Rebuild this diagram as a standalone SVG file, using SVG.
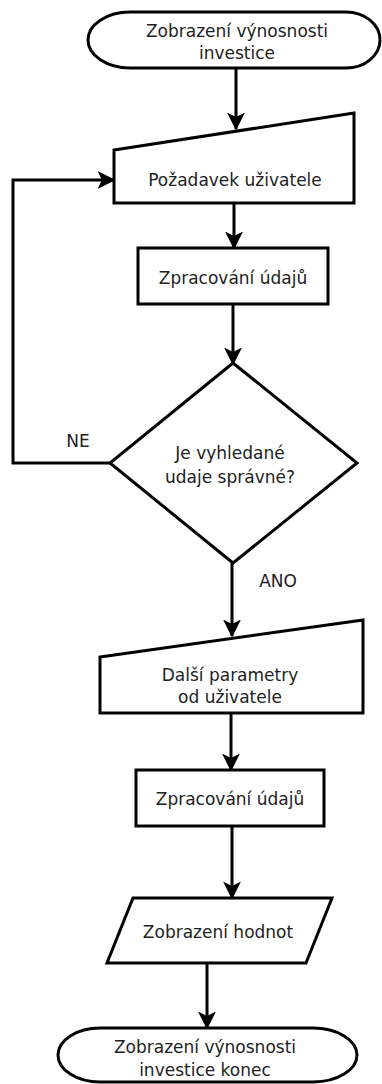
<svg xmlns="http://www.w3.org/2000/svg" width="382" height="1084" viewBox="0 0 382 1084">
<defs>
<marker id="ah" viewBox="0 0 12 12" refX="11" refY="6" markerWidth="6" markerHeight="6" orient="auto" markerUnits="strokeWidth">
<path d="M0,0 L12,6 L0,12 L3,6 z" fill="#000"/>
</marker>
<style>
.s{fill:#fff;stroke:#000;stroke-width:3;stroke-linejoin:miter}
.c{fill:none;stroke:#000;stroke-width:3}
.t{font-family:"DejaVu Sans",sans-serif;font-size:17px;fill:#222;text-anchor:middle}
</style>
</defs>
<rect width="382" height="1084" fill="#fff"/>
<g id="connectors">
<line class="c" x1="236" y1="68" x2="236" y2="129" marker-end="url(#ah)"/>
<line class="c" x1="234" y1="203" x2="234" y2="248" marker-end="url(#ah)"/>
<line class="c" x1="233" y1="304" x2="233" y2="364" marker-end="url(#ah)"/>
<polyline class="c" points="110,463 13,463 13,180 114,180" marker-end="url(#ah)"/>
<line class="c" x1="232" y1="563" x2="232" y2="636" marker-end="url(#ah)"/>
<line class="c" x1="231" y1="713" x2="231" y2="770" marker-end="url(#ah)"/>
<line class="c" x1="232" y1="826" x2="232" y2="898" marker-end="url(#ah)"/>
<line class="c" x1="207" y1="963" x2="207" y2="1028" marker-end="url(#ah)"/>
</g>
<g id="start">
<path class="s" d="M130,12 H346 A34,28 0 0 1 346,68 H130 A42,28 0 0 1 130,12 Z"/>
<text class="t" x="237" y="37">Zobrazení výnosnosti</text>
<text class="t" x="237" y="59">investice</text>
</g>
<g id="input1">
<path class="s" d="M114,150 L354,113 L354,203 L114,203 Z"/>
<text class="t" x="235" y="186">Požadavek uživatele</text>
</g>
<g id="process1">
<rect class="s" x="138" y="248" width="190" height="56"/>
<text class="t" x="233" y="284">Zpracování údajů</text>
</g>
<g id="decision">
<path class="s" d="M233,363 L357,463 L233,563 L110,463 Z"/>
<text class="t" x="230" y="459">Je vyhledané</text>
<text class="t" x="230" y="483">udaje správné?</text>
</g>
<g id="labels">
<text class="t" x="78" y="447">NE</text>
<text class="t" x="278" y="587">ANO</text>
</g>
<g id="input2">
<path class="s" d="M100,657 L363,620 L363,713 L100,713 Z"/>
<text class="t" x="230" y="681">Další parametry</text>
<text class="t" x="230" y="703">od uživatele</text>
</g>
<g id="process2">
<rect class="s" x="136" y="770" width="188" height="56"/>
<text class="t" x="230" y="805">Zpracování údajů</text>
</g>
<g id="output">
<path class="s" d="M133,898 L332,898 L306,963 L107,963 Z"/>
<text class="t" x="218" y="938">Zobrazení hodnot</text>
</g>
<g id="end">
<path class="s" d="M100,1028 H313 A44,27 0 0 1 313,1082 H100 A42,27 0 0 1 100,1028 Z"/>
<text class="t" x="205" y="1053">Zobrazení výnosnosti</text>
<text class="t" x="205" y="1076">investice konec</text>
</g>
</svg>
